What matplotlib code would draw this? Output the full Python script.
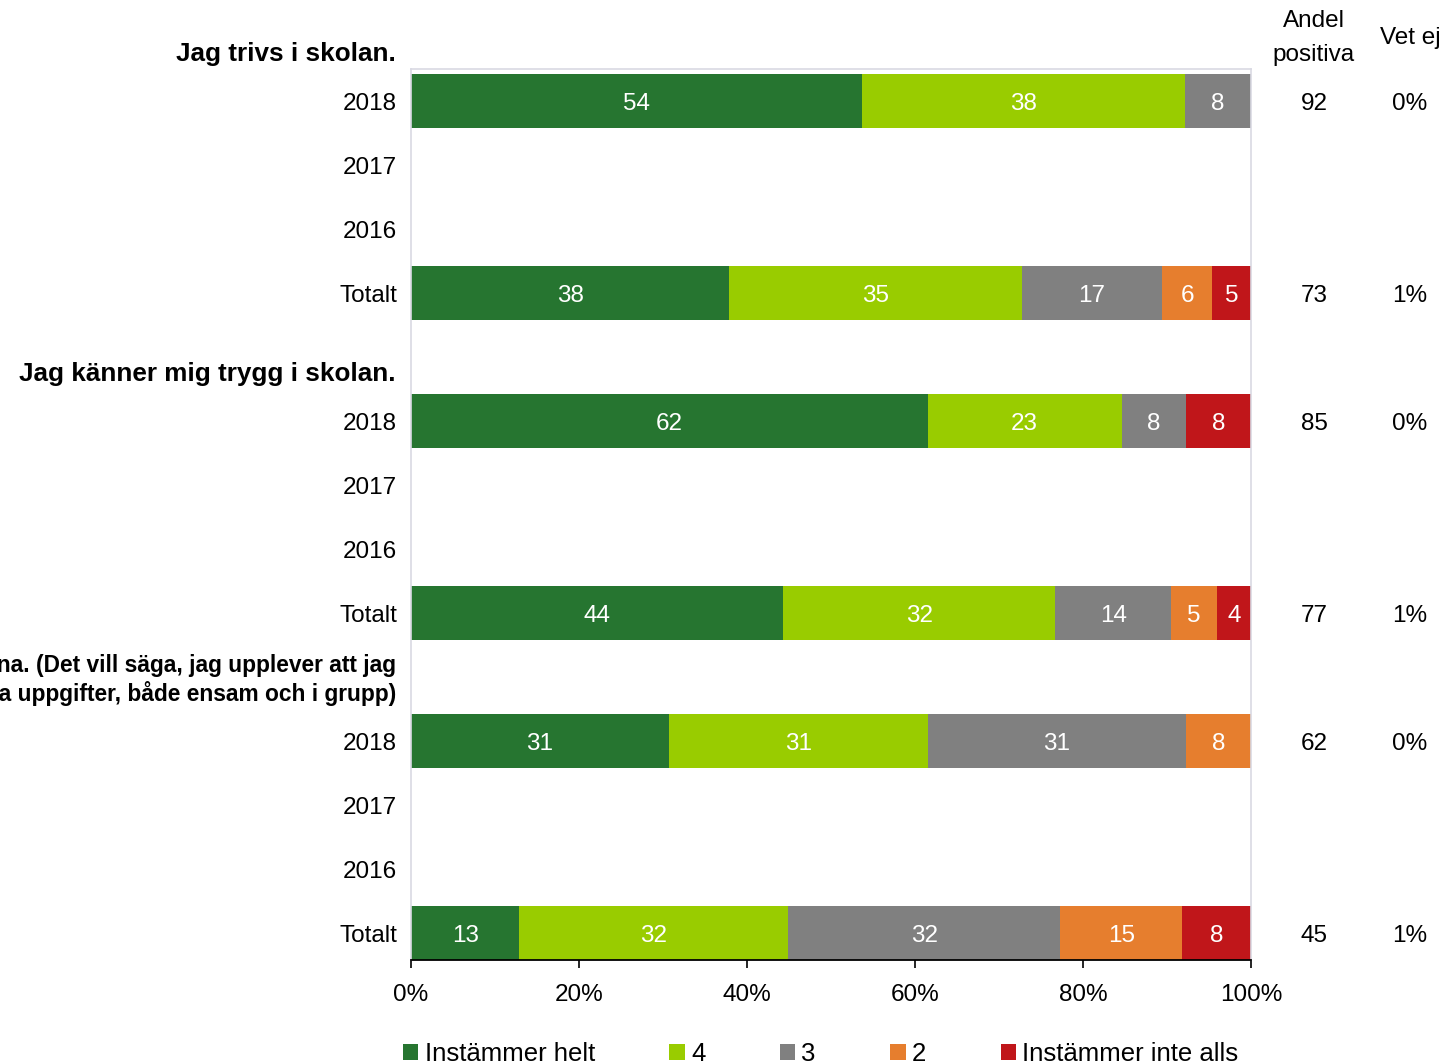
import matplotlib
matplotlib.use("Agg")
import matplotlib.pyplot as plt
import matplotlib.transforms as mtransforms
from matplotlib.patches import Patch

plt.rcParams['font.family'] = ['Liberation Sans', 'DejaVu Sans']

# ---- data ----
categories = ["Instämmer helt", "4", "3", "2", "Instämmer inte alls"]
colors = ["#267530", "#99CC00", "#808080", "#E67E2E", "#C0161A"]

row_labels = ["2018", "2017", "2016", "Totalt",
              "2018", "2017", "2016", "Totalt",
              "2018", "2017", "2016", "Totalt"]
row_slots = [1, 2, 3, 4, 6, 7, 8, 9, 11, 12, 13, 14]

# percentages per row (None = no data)
helt = [53.7, None, None, 37.9, 61.5, None, None, 44.3, 30.7, None, None, 12.9]
fyra = [38.4, None, None, 34.8, 23.1, None, None, 32.4, 30.8, None, None, 32.0]
tre = [7.9, None, None, 16.7, 7.7, None, None, 13.8, 30.8, None, None, 32.4]
tva = [0.0, None, None, 6.0, 0.0, None, None, 5.4, 7.7, None, None, 14.5]
inte = [0.0, None, None, 4.6, 7.7, None, None, 4.1, 0.0, None, None, 8.2]

andel_positiva = ["92", "", "", "73", "85", "", "", "77", "62", "", "", "45"]
vet_ej = ["0%", "", "", "1%", "0%", "", "", "1%", "0%", "", "", "1%"]

titles = ["Jag trivs i skolan.", "Jag känner mig trygg i skolan."]
title_slots = [0.27, 5.27]
title3_lines = ["Jag får arbeta på många olika sätt på lektionerna. (Det vill säga, jag upplever att jag",
                "får arbeta med många olika uppgifter, både ensam och i grupp)"]
title3_slots = [9.81, 10.25]

xticks = [0, 20, 40, 60, 80, 100]
xticklabels = ["0%", "20%", "40%", "60%", "80%", "100%"]

# ---- figure ----
W, H = 1447, 1064
FS = 17.5
fig = plt.figure(figsize=(W / 100, H / 100), dpi=100)
ax_left, ax_right, ax_top, ax_bottom = 411, 1251, 69, 960
ax = fig.add_axes([ax_left / W, 1 - ax_bottom / H, (ax_right - ax_left) / W, (ax_bottom - ax_top) / H])

series = [helt, fyra, tre, tva, inte]
bar_h = 54 / 64
dy = 0.04
for i, slot in enumerate(row_slots):
    left = 0.0
    for s, col in zip(series, colors):
        v = s[i]
        if v is None or v == 0:
            continue
        ax.barh(slot, v, left=left, height=bar_h, color=col, edgecolor='none')
        ax.text(left + v / 2, slot + dy, str(int(v + 0.5)), ha='center', va='center',
                color='white', fontsize=FS)
        left += v

ax.set_xlim(0, 100)
ax.set_ylim((ax_bottom - 37) / 64, (ax_top - 37) / 64)
ax.set_yticks(row_slots)
ax.set_yticklabels(row_labels, fontsize=FS)
ax.tick_params(axis='y', length=0, pad=10)
ax.set_xticks(xticks)
ax.set_xticklabels(xticklabels, fontsize=FS)
ax.tick_params(axis='x', direction='out', length=6, width=1.2, pad=11, color='black')

for side in ['top', 'left', 'right']:
    ax.spines[side].set_color('#D9D9E3')
    ax.spines[side].set_linewidth(1.2)
ax.spines['bottom'].set_color('black')
ax.spines['bottom'].set_linewidth(1.3)

trans = mtransforms.blended_transform_factory(ax.transAxes, ax.transData)
tx = (396 - ax_left) / (ax_right - ax_left)
for t, y in zip(titles, title_slots):
    ax.text(tx, y, t, transform=trans, ha='right', va='center', fontsize=18.8, fontweight='bold')
for t, y in zip(title3_lines, title3_slots):
    ax.text(tx, y, t, transform=trans, ha='right', va='center', fontsize=16.4, fontweight='bold')

x_andel = (1314 - ax_left) / (ax_right - ax_left)
x_vet = (1410 - ax_left) / (ax_right - ax_left)
ax.text(x_andel, (21 - 37) / 64, "Andel", transform=trans, ha='center', va='center', fontsize=FS)
ax.text(x_andel, (55 - 37) / 64, "positiva", transform=trans, ha='center', va='center', fontsize=FS)
ax.text(x_vet, 0.02, "Vet ej", transform=trans, ha='center', va='center', fontsize=FS)
for slot, a, v in zip(row_slots, andel_positiva, vet_ej):
    if a:
        ax.text(x_andel, slot + 0.05, a, transform=trans, ha='center', va='center', fontsize=FS)
    if v:
        ax.text(x_vet, slot + 0.05, v, transform=trans, ha='center', va='center', fontsize=FS)

handles = [Patch(facecolor=c, edgecolor='none') for c in colors]
fig.legend(handles, categories, loc='center left', bbox_to_anchor=(403 / W, 1 - 1054 / H),
           ncol=5, frameon=False, fontsize=18.5, handlelength=0.6, handleheight=0.6,
           handletextpad=0.24, columnspacing=2.9, borderaxespad=0, borderpad=0)

fig.savefig("out.png", dpi=100)
